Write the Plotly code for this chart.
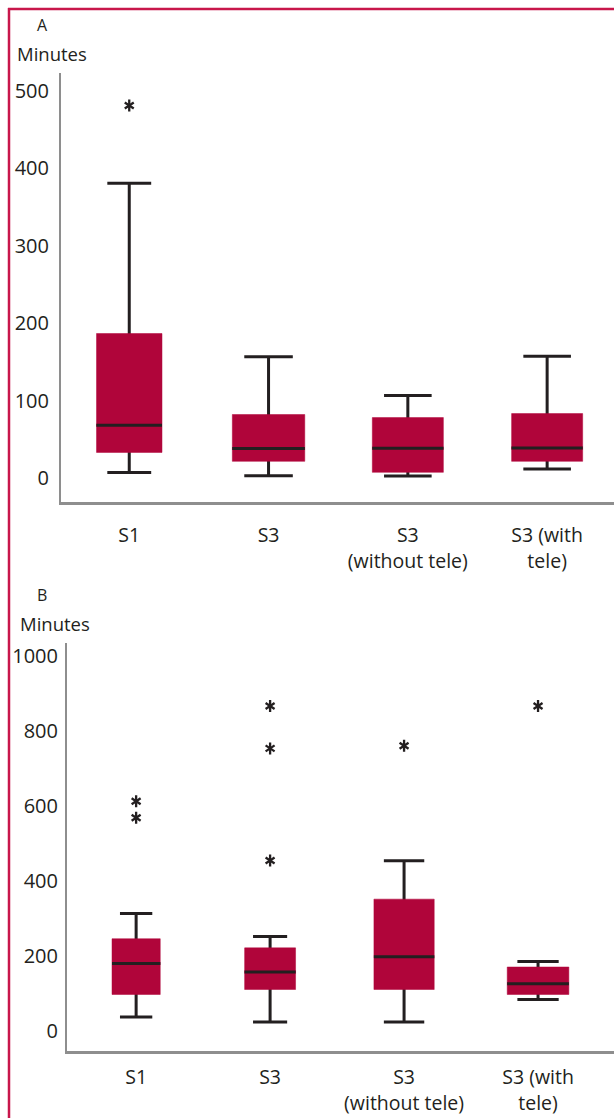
import plotly.graph_objects as go

# ---------------- data ----------------
CATEGORIES = ["S1", "S3", "S3<br>(without tele)", "S3 (with<br>tele)"]

# Panel A (minutes)
A_LOWER = [7, 3, 2.6, 11.6]
A_Q1 = [33, 21.5, 7.3, 21.5]
A_MEDIAN = [68, 38, 38.3, 38.8]
A_Q3 = [186.6, 82, 78, 83.2]
A_UPPER = [380.6, 156.5, 106.4, 157.3]
A_OUTLIERS = [[481], [], [], []]

# Panel B (minutes)
B_LOWER = [36.8, 23.4, 23.4, 83.2]
B_Q1 = [96.7, 110, 110, 96.7]
B_MEDIAN = [179, 156.8, 197, 125.4]
B_Q3 = [245.4, 221, 351, 170]
B_UPPER = [312.6, 251.6, 453, 184.5]
B_OUTLIERS = [[612, 568], [866, 753, 454], [760], [866]]

A_TICKS = [0, 100, 200, 300, 400, 500]
B_TICKS = [0, 200, 400, 600, 800, 1000]

# ---------------- style ----------------
W, H = 614, 1118
CRIMSON = "#b0053a"
BORDER = "#c8174b"
DARK = "#231f20"
AXIS = "#8e8e8e"
FONT = "Open Sans"
A_WIDTHS = [0.47, 0.52, 0.51, 0.51]
B_WIDTHS = [0.36, 0.38, 0.45, 0.46]
WHISKER = 0.67

fig = go.Figure()


def add_panel(xref, yref, lower, q1, med, q3, upper, outliers, widths):
    for i, cat in enumerate(CATEGORIES):
        common = dict(x=[cat], xaxis=xref, yaxis=yref, width=widths[i],
                      boxpoints=False, showlegend=False, hoverinfo="skip")
        # whiskers (dark) from median to fences
        fig.add_trace(go.Box(q1=[med[i]], median=[med[i]], q3=[med[i]],
                             lowerfence=[lower[i]], upperfence=[upper[i]],
                             whiskerwidth=WHISKER,
                             line=dict(color=DARK, width=3),
                             fillcolor=DARK, **common))
        # crimson box
        fig.add_trace(go.Box(q1=[q1[i]], median=[med[i]], q3=[q3[i]],
                             lowerfence=[q1[i]], upperfence=[q3[i]],
                             whiskerwidth=0,
                             line=dict(color=CRIMSON, width=0.5),
                             fillcolor=CRIMSON, **common))
        # dark median line
        fig.add_trace(go.Box(q1=[med[i]], median=[med[i]], q3=[med[i]],
                             lowerfence=[med[i]], upperfence=[med[i]],
                             whiskerwidth=0,
                             line=dict(color=DARK, width=3),
                             fillcolor=DARK, **common))
    ox, oy = [], []
    for i, cat in enumerate(CATEGORIES):
        for v in outliers[i]:
            ox.append(cat)
            oy.append(v)
    for sym in ["y-up-open", "y-down-open"]:
        fig.add_trace(go.Scatter(x=ox, y=oy, xaxis=xref, yaxis=yref, mode="markers",
                                 marker=dict(symbol=sym, size=7.5, color=DARK,
                                             line=dict(color=DARK, width=2.3)),
                                 showlegend=False, hoverinfo="skip"))


add_panel("x", "y", A_LOWER, A_Q1, A_MEDIAN, A_Q3, A_UPPER, A_OUTLIERS, A_WIDTHS)
add_panel("x2", "y2", B_LOWER, B_Q1, B_MEDIAN, B_Q3, B_UPPER, B_OUTLIERS, B_WIDTHS)

xcommon = dict(type="category", categoryorder="array", categoryarray=CATEGORIES,
               showline=True, linecolor=AXIS, linewidth=2.5, showgrid=False,
               zeroline=False, ticks="", automargin=False, fixedrange=True,
               tickfont=dict(family=FONT, size=19.5, color=DARK))
ycommon = dict(showline=True, linecolor=AXIS, linewidth=2, showgrid=False,
               zeroline=False, ticks="", automargin=False, fixedrange=True,
               tickfont=dict(family=FONT, size=20, color=DARK))

fig.update_layout(
    width=W, height=H,
    margin=dict(l=0, r=0, t=0, b=0),
    paper_bgcolor="white", plot_bgcolor="white",
    boxmode="overlay",
    xaxis=dict(domain=[61 / W, 1], anchor="y", range=[-0.49, 3.48],
               ticklabelstandoff=14, **xcommon),
    yaxis=dict(domain=[1 - 502 / H, 1 - 73 / H], anchor="x", range=[-31, 523],
               tickvals=A_TICKS, ticklabelstandoff=6, **ycommon),
    xaxis2=dict(domain=[67 / W, 1], anchor="y2", range=[-0.516, 3.567],
                ticklabelstandoff=7, **xcommon),
    yaxis2=dict(domain=[1 - 1051 / H, 1 - 643 / H], anchor="x2", range=[-54, 1034],
                tickvals=B_TICKS, ticklabelstandoff=3, **ycommon),
    font=dict(family=FONT, color=DARK),
    shapes=[
        dict(type="line", xref="paper", yref="paper", x0=9 / W, x1=9 / W, y0=0,
             y1=1 - 8 / H, line=dict(color=BORDER, width=2.5)),
        dict(type="line", xref="paper", yref="paper", x0=8 / W, x1=1, y0=1 - 9 / H,
             y1=1 - 9 / H, line=dict(color=BORDER, width=2.5)),
    ],
    annotations=[
        dict(text="A", x=42 / W, y=1 - 25 / H, xref="paper", yref="paper",
             showarrow=False, xanchor="center", yanchor="middle",
             font=dict(family=FONT, size=16, color=DARK)),
        dict(text="Minutes", x=52 / W, y=1 - 53 / H, xref="paper", yref="paper",
             showarrow=False, xanchor="center", yanchor="middle",
             font=dict(family=FONT, size=18.5, color=DARK)),
        dict(text="B", x=42 / W, y=1 - 595 / H, xref="paper", yref="paper",
             showarrow=False, xanchor="center", yanchor="middle",
             font=dict(family=FONT, size=16, color=DARK)),
        dict(text="Minutes", x=55 / W, y=1 - 623 / H, xref="paper", yref="paper",
             showarrow=False, xanchor="center", yanchor="middle",
             font=dict(family=FONT, size=18.5, color=DARK)),
    ],
)

fig.write_html("out.html", config={"displayModeBar": False},
               post_script="document.body.style.margin='0px';document.body.style.overflow='hidden';")
